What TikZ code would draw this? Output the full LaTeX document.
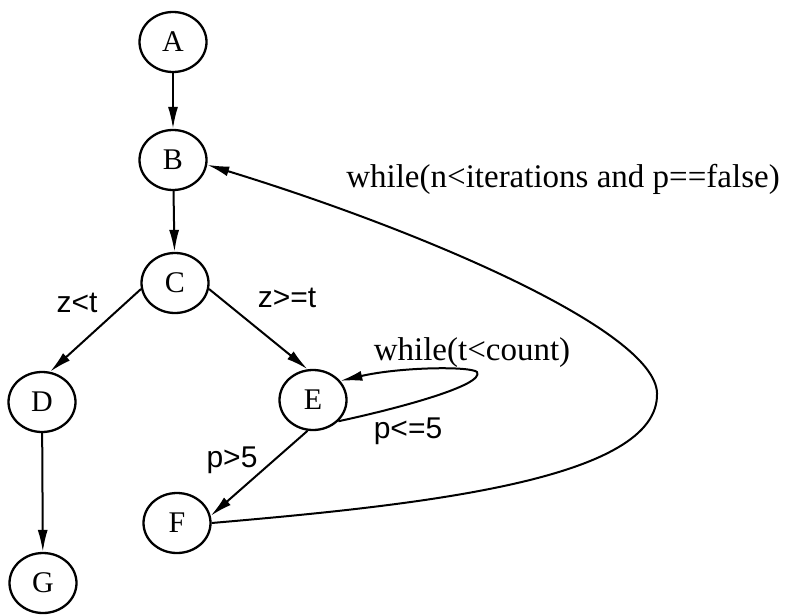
\documentclass[tikz,border=0pt]{standalone}
\usepackage{fontspec}
\setmainfont{Liberation Serif}
\setsansfont{Liberation Sans}
\usetikzlibrary{shapes.geometric,arrows.meta}
\begin{document}
\begin{tikzpicture}[x=1pt,y=-1pt,
  state/.style={ellipse,draw,line width=2.3pt,minimum width=67pt,minimum height=60pt,inner sep=0pt,font=\fontsize{30}{32}\selectfont},
  edge/.style={line width=2pt,-{Latex[length=22pt,width=10pt]}},
  serlab/.style={anchor=base,inner sep=0pt,font=\fontsize{33}{36}\selectfont},
  sanslab/.style={anchor=base,inner sep=0pt,font=\sffamily\fontsize{30}{32}\selectfont}]
\useasboundingbox (0,0) rectangle (791,615);
\node[state] (A) at (173,42) {A};
\node[state] (B) at (173,160) {B};
\node[state] (C) at (175,283) {C};
\node[state] (D) at (42,402) {D};
\node[state] (E) at (313,400) {E};
\node[state] (F) at (177,523) {F};
\node[state] (G) at (43,583) {G};

\draw[edge] (A) -- (B);
\draw[edge] (B) -- (C);
\draw[edge] (C.190) -- (D.75);
\draw[edge] (C.-10) -- (E.100);
\draw[edge] (D) -- (G);
\draw[edge] (E.-100) -- (F.12);
\draw[edge] (E.-40) .. controls (400,408) and (485,385) .. (477,372)
   .. controls (470,366) and (400,367) .. (E.35);
\draw[edge] (F.east) .. controls (420,505) and (660,480) .. (657,393)
   .. controls (655,330) and (420,230) .. (B.-8);

\node[serlab] (l1) at (563,187) {while(n<iterations and p==false)};
\node[serlab] (l2) at (472,360) {while(t<count)};
\node[sanslab] (l3) at (408,438) {p<=5};
\node[sanslab] (l4) at (232,467) {p>5};
\node[sanslab] (l5) at (77,312) {z<t};
\node[sanslab] (l6) at (287,307) {z>=t};
\end{tikzpicture}
\end{document}
